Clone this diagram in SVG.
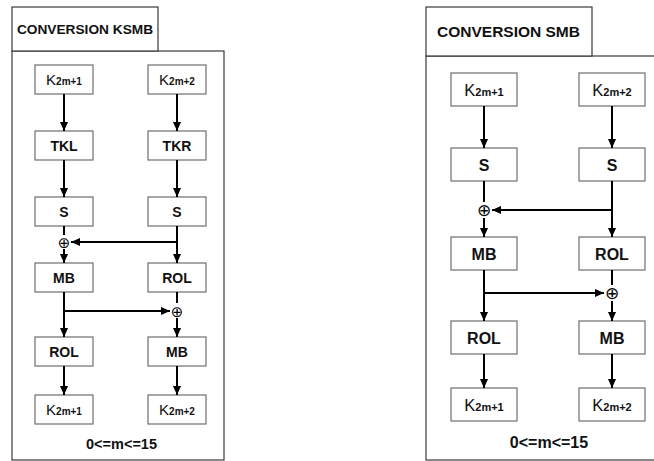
<svg xmlns="http://www.w3.org/2000/svg" width="654" height="461" viewBox="0 0 654 461">
<style>
.panel{fill:#fff;stroke:#3a3a3a;stroke-width:1.2}
.box{fill:#fff;stroke:#6e6e6e;stroke-width:1.2}
.t{font-family:"Liberation Sans",Arial,sans-serif;font-weight:bold;fill:#111;text-anchor:middle}
.k{font-family:"Liberation Sans",Arial,sans-serif;fill:#111;text-anchor:middle}
.sub{font-weight:bold}
.x{font-family:"DejaVu Sans",sans-serif;fill:#000;text-anchor:middle;font-variant-emoji:text}
.c{fill:none;stroke:#000;stroke-width:2}
.a{marker-end:url(#ah)}
</style>
<defs>
<marker id="ah" viewBox="0 0 10 10" refX="10" refY="5" markerWidth="9" markerHeight="9" markerUnits="userSpaceOnUse" orient="auto">
<path d="M0,0.5 L10,5 L0,9.5 z" fill="#000"/>
</marker>
</defs>
<rect width="654" height="461" fill="#fff"/>

<!-- LEFT PANEL -->
<g id="left-panel">
<rect class="panel" x="12" y="51" width="212" height="409"/>
<rect class="panel" x="12" y="7" width="146" height="44"/>
<text class="t" x="85" y="33.5" font-size="13.7">CONVERSION KSMB</text>
<text class="t" x="121.5" y="449" font-size="14.5">0&lt;=m&lt;=15</text>
</g>
<g id="L-K1"><rect class="box" x="35" y="65" width="58" height="29"/><text class="k" x="64" y="85" font-size="15">K<tspan class="sub" font-size="10">2m+1</tspan></text></g>
<g id="L-K2"><rect class="box" x="148" y="65" width="58" height="29"/><text class="k" x="177" y="85" font-size="15">K<tspan class="sub" font-size="10">2m+2</tspan></text></g>
<g id="L-TKL"><rect class="box" x="35" y="131" width="58" height="29"/><text class="t" x="64" y="150.5" font-size="14">TKL</text></g>
<g id="L-TKR"><rect class="box" x="148" y="131" width="58" height="29"/><text class="t" x="177" y="150.5" font-size="14">TKR</text></g>
<g id="L-S1"><rect class="box" x="35" y="197" width="58" height="29"/><text class="t" x="64" y="216.5" font-size="14">S</text></g>
<g id="L-S2"><rect class="box" x="148" y="197" width="58" height="29"/><text class="t" x="177" y="216.5" font-size="14">S</text></g>
<g id="L-X1"><text class="x" x="64" y="247.5" font-size="15">⊕</text></g>
<g id="L-MB1"><rect class="box" x="35" y="263" width="58" height="29"/><text class="t" x="64" y="282.5" font-size="14">MB</text></g>
<g id="L-ROL2"><rect class="box" x="148" y="263" width="58" height="29"/><text class="t" x="177" y="282.5" font-size="14">ROL</text></g>
<g id="L-X2"><text class="x" x="177" y="316.5" font-size="15">⊕</text></g>
<g id="L-ROL1"><rect class="box" x="35" y="337" width="58" height="29"/><text class="t" x="64" y="356.5" font-size="14">ROL</text></g>
<g id="L-MB2"><rect class="box" x="148" y="337" width="58" height="29"/><text class="t" x="177" y="356.5" font-size="14">MB</text></g>
<g id="L-K1out"><rect class="box" x="35" y="395" width="58" height="29"/><text class="k" x="64" y="415" font-size="15">K<tspan class="sub" font-size="10">2m+1</tspan></text></g>
<g id="L-K2out"><rect class="box" x="148" y="395" width="58" height="29"/><text class="k" x="177" y="415" font-size="15">K<tspan class="sub" font-size="10">2m+2</tspan></text></g>

<!-- RIGHT PANEL -->
<g id="right-panel">
<rect class="panel" x="426" y="56" width="240" height="404"/>
<rect class="panel" x="426" y="7" width="166" height="49"/>
<text class="t" x="508.5" y="37" font-size="15.5">CONVERSION SMB</text>
<text class="t" x="549" y="448" font-size="16">0&lt;=m&lt;=15</text>
</g>
<g id="R-K1"><rect class="box" x="451" y="73" width="66" height="33"/><text class="k" x="484" y="95.5" font-size="16.5">K<tspan class="sub" font-size="11">2m+1</tspan></text></g>
<g id="R-K2"><rect class="box" x="579" y="73" width="66" height="33"/><text class="k" x="612" y="95.5" font-size="16.5">K<tspan class="sub" font-size="11">2m+2</tspan></text></g>
<g id="R-S1"><rect class="box" x="451" y="148" width="66" height="33"/><text class="t" x="484" y="170.5" font-size="16">S</text></g>
<g id="R-S2"><rect class="box" x="579" y="148" width="66" height="33"/><text class="t" x="612" y="170.5" font-size="16">S</text></g>
<g id="R-X1"><text class="x" x="484" y="216" font-size="17">⊕</text></g>
<g id="R-MB1"><rect class="box" x="451" y="237" width="66" height="33"/><text class="t" x="484" y="259.5" font-size="16">MB</text></g>
<g id="R-ROL2"><rect class="box" x="579" y="237" width="66" height="33"/><text class="t" x="612" y="259.5" font-size="16">ROL</text></g>
<g id="R-X2"><text class="x" x="612" y="299" font-size="17">⊕</text></g>
<g id="R-ROL1"><rect class="box" x="451" y="321" width="66" height="33"/><text class="t" x="484" y="343.5" font-size="16">ROL</text></g>
<g id="R-MB2"><rect class="box" x="579" y="321" width="66" height="33"/><text class="t" x="612" y="343.5" font-size="16">MB</text></g>
<g id="R-K1out"><rect class="box" x="451" y="388" width="66" height="33"/><text class="k" x="484" y="410.5" font-size="16.5">K<tspan class="sub" font-size="11">2m+1</tspan></text></g>
<g id="R-K2out"><rect class="box" x="579" y="388" width="66" height="33"/><text class="k" x="612" y="410.5" font-size="16.5">K<tspan class="sub" font-size="11">2m+2</tspan></text></g>

<g id="connectors">
<path class="c a" d="M64 94 V131"/>
<path class="c a" d="M64 160 V197"/>
<path class="c a" d="M177 94 V131"/>
<path class="c a" d="M177 160 V197"/>
<path class="c" d="M64 226 V235"/>
<path class="c a" d="M64 249 V263"/>
<path class="c a" d="M177 226 V263"/>
<path class="c a" d="M177 242 H71"/>
<path class="c a" d="M64 292 V337"/>
<path class="c a" d="M64 311 H170"/>
<path class="c" d="M177 292 V303"/>
<path class="c a" d="M177 318 V337"/>
<path class="c a" d="M64 366 V395"/>
<path class="c a" d="M177 366 V395"/>

<path class="c a" d="M484 106 V148"/>
<path class="c a" d="M612 106 V148"/>
<path class="c" d="M484 181 V202"/>
<path class="c a" d="M484 218 V237"/>
<path class="c a" d="M612 181 V237"/>
<path class="c a" d="M612 210 H492"/>
<path class="c a" d="M484 270 V321"/>
<path class="c a" d="M484 293 H604"/>
<path class="c" d="M612 270 V285"/>
<path class="c a" d="M612 301 V321"/>
<path class="c a" d="M484 354 V388"/>
<path class="c a" d="M612 354 V388"/>
</g>
</svg>
